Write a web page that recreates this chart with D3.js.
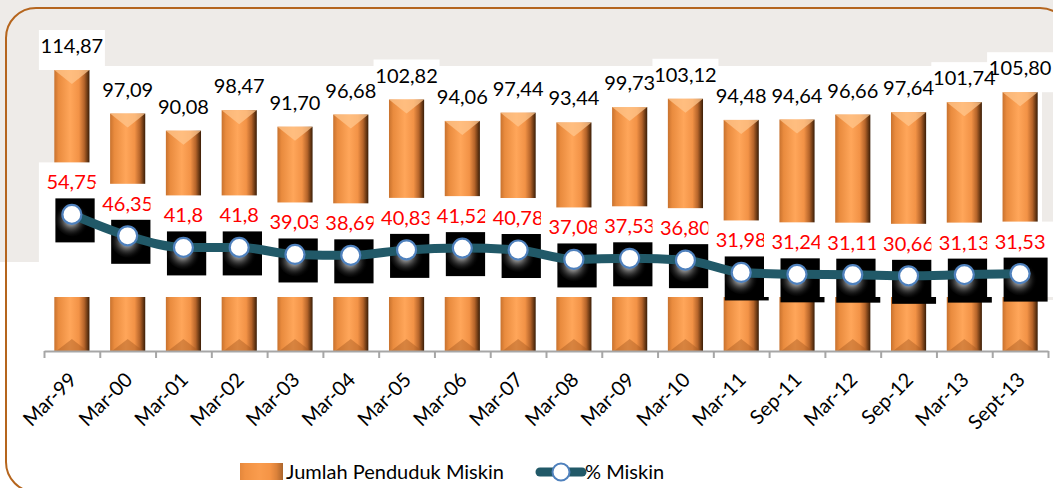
<!DOCTYPE html>
<html>
<head>
<meta charset="utf-8">
<script src="https://cdn.jsdelivr.net/npm/d3@7"></script>
<style>
  html, body { margin: 0; padding: 0; background: #ffffff; }
  svg { display: block; }
  text { font-family: Lato, "Open Sans", sans-serif; }
</style>
</head>
<body>
<svg id="chart" width="1053" height="488"></svg>
<script>
// ---- data ----
const categories = ["Mar-99","Mar-00","Mar-01","Mar-02","Mar-03","Mar-04","Mar-05","Mar-06","Mar-07","Mar-08","Mar-09","Mar-10","Mar-11","Sep-11","Mar-12","Sep-12","Mar-13","Sept-13"];
const jumlahMiskin = [114.87, 97.09, 90.08, 98.47, 91.70, 96.68, 102.82, 94.06, 97.44, 93.44, 99.73, 103.12, 94.48, 94.64, 96.66, 97.64, 101.74, 105.80];
const persenMiskin = [54.75, 46.35, 41.8, 41.8, 39.03, 38.69, 40.83, 41.52, 40.78, 37.08, 37.53, 36.80, 31.98, 31.24, 31.11, 30.66, 31.13, 31.53];
const persenLabels = ["54,75","46,35","41,8","41,8","39,03","38,69","40,83","41,52","40,78","37,08","37,53","36,80","31,98","31,24","31,11","30,66","31,13","31,53"];
const seriesNames = ["Jumlah Penduduk Miskin", "% Miskin"];

const svg = d3.select("#chart");
const W = 1053, H = 488;

// ---- defs ----
const defs = svg.append("defs");
const barGrad = defs.append("linearGradient").attr("id","barGrad").attr("x1","0").attr("x2","1").attr("y1","0").attr("y2","0");
[["0%","#c8722e"],["12%","#e98b3e"],["45%","#ffa65a"],["70%","#f29246"],["85%","#b5642a"],["100%","#3a1d06"]]
  .forEach(([o,c]) => barGrad.append("stop").attr("offset",o).attr("stop-color",c));
const glow = defs.append("radialGradient").attr("id","glow").attr("cx","0.45").attr("cy","0.55").attr("r","0.5");
[["0%","#ffffff",0.95],["35%","#bbbbbb",0.6],["100%","#000000",0]]
  .forEach(([o,c,op]) => glow.append("stop").attr("offset",o).attr("stop-color",c).attr("stop-opacity",op));

// ---- background ----
svg.append("rect").attr("x",0).attr("y",0).attr("width",W).attr("height",H).attr("fill","#ffffff");
svg.append("rect").attr("x",0).attr("y",0).attr("width",W).attr("height",66).attr("fill","#eeebe8");
svg.append("rect").attr("x",0).attr("y",0).attr("width",56).attr("height",262).attr("fill","#eeebe8");
svg.append("rect").attr("x",1042).attr("y",0).attr("width",11).attr("height",300).attr("fill","#eeebe8");

// ---- scales ----
const x = d3.scaleBand().domain(categories).range([44, 1048]).paddingInner(0.37).paddingOuter(0.185);
const yBar = d3.scaleLinear().domain([0, 120]).range([351, 351 - 120 * 2.446]);
const yPct = d3.scaleLinear().domain([0, 60]).range([354, 354 - 60 * 2.55]);
const cx = d => x(d) + x.bandwidth() / 2;
const bw = x.bandwidth();

const barData = categories.map((c, i) => ({ c, v: jumlahMiskin[i] }));
const lineData = categories.map((c, i) => ({ c, v: persenMiskin[i], label: persenLabels[i] }));

// ---- bar label boxes (white) ----
svg.append("g").selectAll("rect").data(barData).join("rect")
  .attr("x", d => cx(d.c) - 33).attr("width", 66)
  .attr("y", d => yBar(d.v) - 40).attr("height", 40)
  .attr("fill", "#ffffff");

// ---- bars ----
const bars = svg.append("g");
bars.selectAll("rect.bar").data(barData).join("rect").attr("class","bar")
  .attr("x", d => x(d.c)).attr("width", bw)
  .attr("y", d => yBar(d.v)).attr("height", d => yBar(0) - yBar(d.v))
  .attr("fill", "url(#barGrad)");
bars.selectAll("path.topcap").data(barData).join("path").attr("class","topcap")
  .attr("d", d => { const x0 = x(d.c), t = yBar(d.v); return `M${x0},${t}L${x0+bw},${t}L${x0+bw/2},${t+14}Z`; })
  .attr("fill", "#ffc58c").attr("opacity", 0.75);
bars.selectAll("path.botcap").data(barData).join("path").attr("class","botcap")
  .attr("d", d => { const x0 = x(d.c), b = yBar(0); return `M${x0+2},${b}L${x0+bw-2},${b}L${x0+bw/2},${b-12}Z`; })
  .attr("fill", "#a85a22").attr("opacity", 0.45);

// ---- bar value labels ----
svg.append("g").selectAll("text").data(barData).join("text")
  .attr("x", d => cx(d.c)).attr("y", d => yBar(d.v) - 17)
  .attr("text-anchor", "middle").attr("font-size", 20).attr("fill", "#000000")
  .text(d => d.v.toFixed(2).replace(".", ","));

// ---- percent label boxes, shadow squares, labels (each clipped by the next) ----
const pg = svg.append("g");
lineData.forEach(d => {
  const px = cx(d.c), py = yPct(d.v);
  pg.append("rect").attr("x", px - 33).attr("y", py - 52).attr("width", 66).attr("height", 297 - (py - 52)).attr("fill", "#ffffff");
  pg.append("rect").attr("x", px - 16.5).attr("y", py - 16).attr("width", 44).attr("height", 44).attr("fill", "#000000");
  pg.append("circle").attr("cx", px + 1).attr("cy", py + 4).attr("r", 18).attr("fill", "url(#glow)");
  pg.append("text").attr("x", px).attr("y", py - 25).attr("text-anchor", "middle")
    .attr("font-size", 20).attr("fill", "#ff0000").text(d.label);
});

// ---- line + markers ----
const line = d3.line().x(d => cx(d.c)).y(d => yPct(d.v)).curve(d3.curveMonotoneX);
svg.append("path").datum(lineData).attr("d", line)
  .attr("fill", "none").attr("stroke", "#215968").attr("stroke-width", 9).attr("stroke-linejoin", "round");
svg.append("g").selectAll("circle").data(lineData).join("circle")
  .attr("cx", d => cx(d.c)).attr("cy", d => yPct(d.v)).attr("r", 9.5)
  .attr("fill", "#ffffff").attr("stroke", "#4f81bd").attr("stroke-width", 2.2);

// ---- axis ----
const tickScale = d3.scaleLinear().domain([0, categories.length]).range(x.range());
const axisG = svg.append("g").attr("transform", "translate(0,351)");
axisG.call(d3.axisBottom(tickScale).tickValues(d3.range(categories.length + 1)).tickFormat("").tickSize(7).tickSizeOuter(0));
axisG.selectAll("path, line").attr("stroke", "#a6a6a6").attr("stroke-width", 2);

const labG = svg.append("g").attr("transform", "translate(0,351)");
labG.call(d3.axisBottom(x).tickSize(0));
labG.select(".domain").remove();
labG.selectAll("text")
  .attr("x", 0).attr("y", 0).attr("dy", 0)
  .attr("transform", "translate(6,30) rotate(-45)")
  .attr("text-anchor", "end")
  .attr("font-size", 20).attr("font-family", "Lato, 'Open Sans', sans-serif").attr("fill", "#000000");

// ---- legend ----
const lg = svg.append("g");
lg.append("rect").attr("x", 240).attr("y", 463).attr("width", 43).attr("height", 17).attr("fill", "url(#barGrad)");
lg.append("rect").attr("x", 240).attr("y", 463).attr("width", 43).attr("height", 17).attr("fill", "#f79646").attr("opacity", 0.6);
lg.append("text").attr("x", 286).attr("y", 479).attr("font-size", 20).attr("fill", "#000").text(seriesNames[0]);
lg.append("line").attr("x1", 540).attr("x2", 582).attr("y1", 472).attr("y2", 472)
  .attr("stroke", "#215968").attr("stroke-width", 9).attr("stroke-linecap", "round");
lg.append("circle").attr("cx", 561).attr("cy", 472).attr("r", 8.5).attr("fill", "#fff").attr("stroke", "#4f81bd").attr("stroke-width", 2);
lg.append("text").attr("x", 585).attr("y", 479).attr("font-size", 20).attr("fill", "#000").text(seriesNames[1]);

// ---- border ----
svg.append("rect").attr("x", 6).attr("y", 8).attr("width", 1064).attr("height", 484).attr("rx", 30)
  .attr("fill", "none").attr("stroke", "#b5651d").attr("stroke-width", 2);
</script>
</body>
</html>
